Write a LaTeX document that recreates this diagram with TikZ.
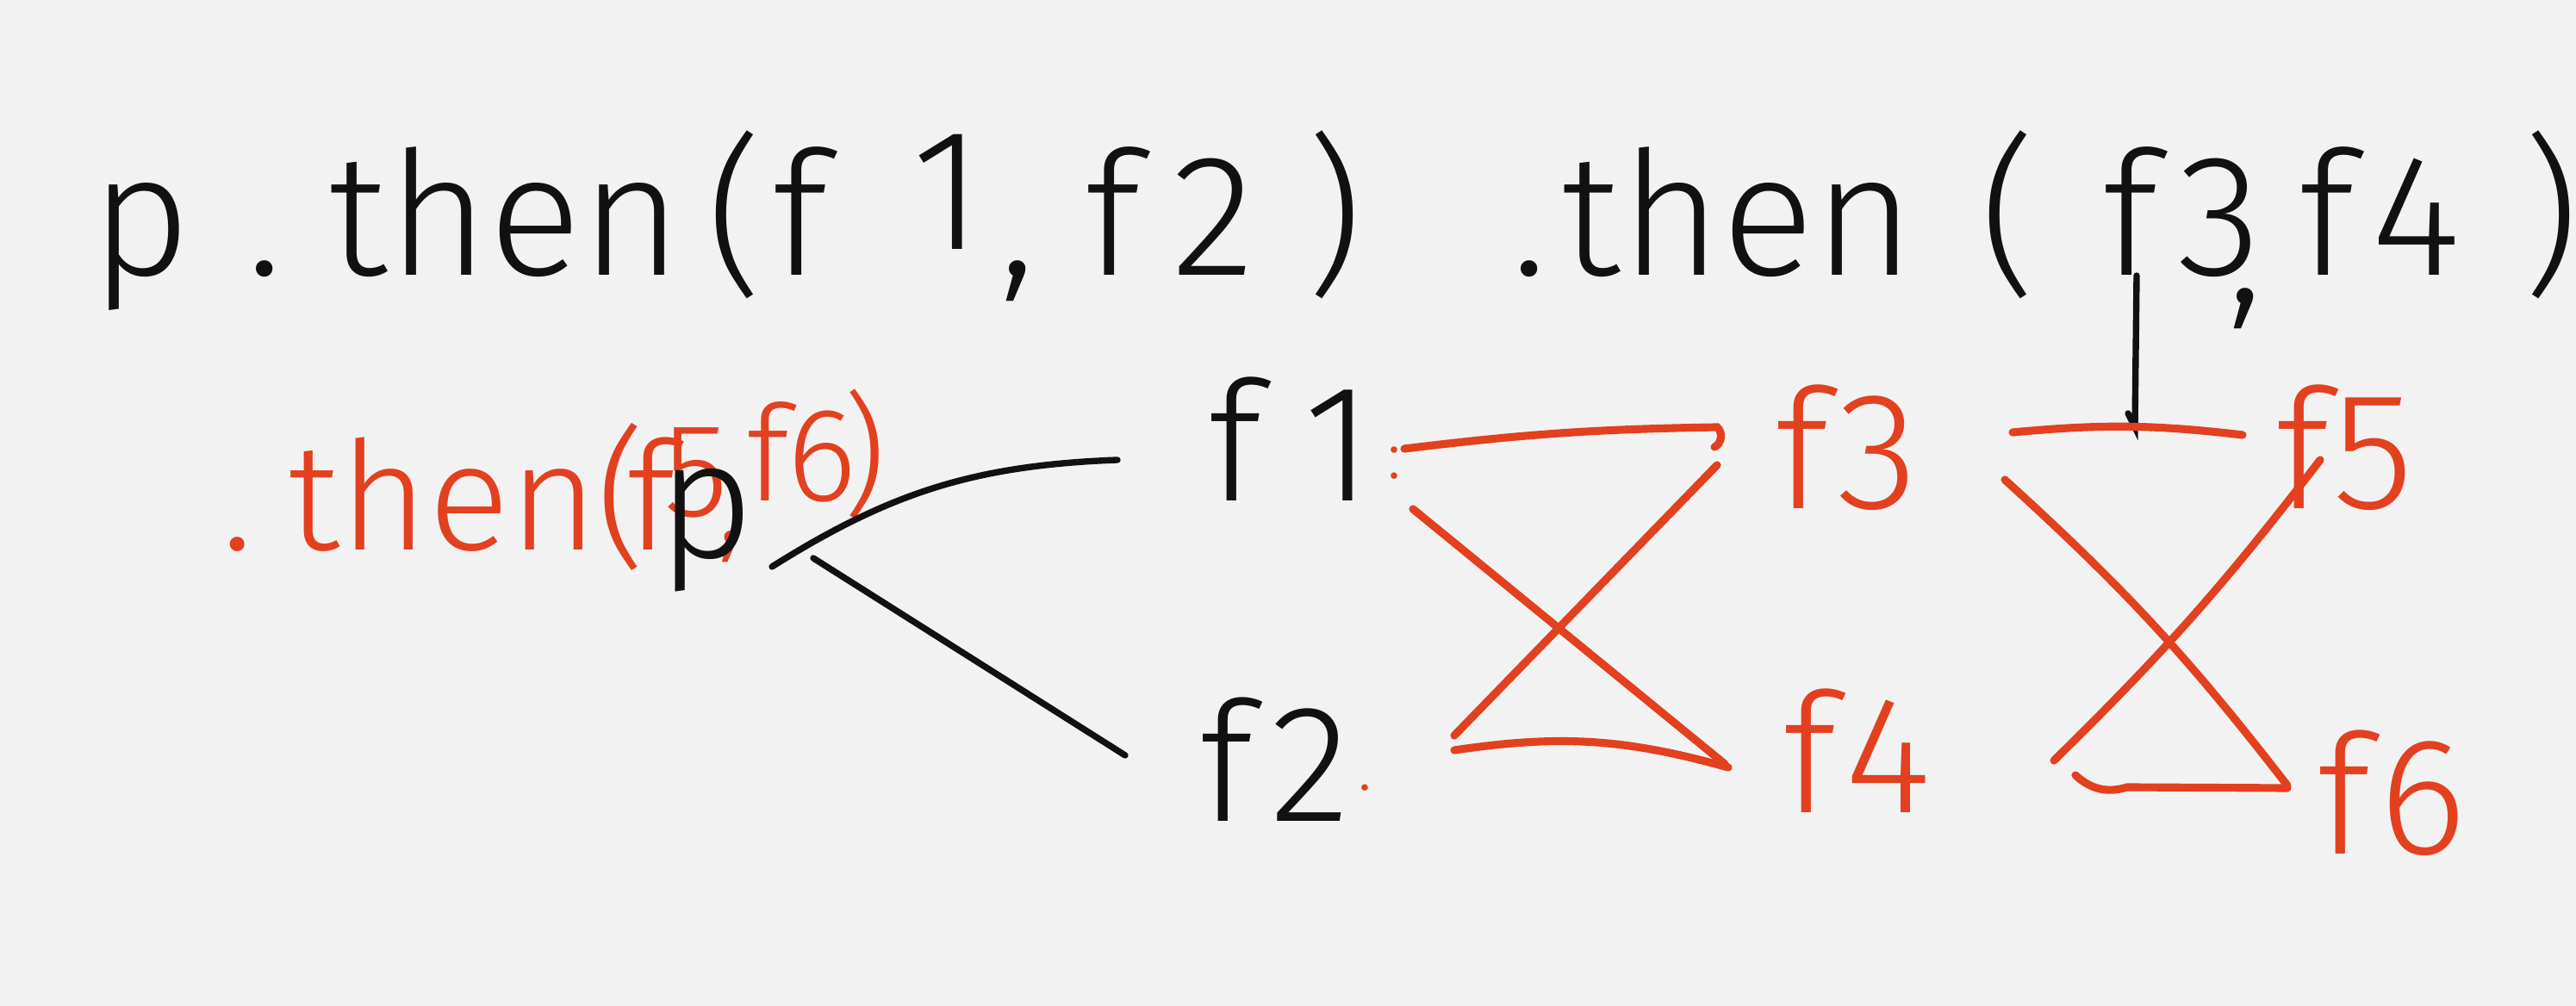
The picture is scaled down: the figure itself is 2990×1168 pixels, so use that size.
\documentclass[tikz,border=0pt]{standalone}
\usepackage{fontspec}
\setmainfont{Fira Sans Light}
\usetikzlibrary{calc}
\definecolor{ink}{HTML}{111111}
\definecolor{pen}{HTML}{E2401F}
\definecolor{paper}{HTML}{F2F2F2}
\begin{document}
\begin{tikzpicture}[x=0.01cm,y=-0.01cm,
 txt/.style={inner sep=0,anchor=base west},
 big/.style={txt,text=ink,font=\fontsize{57}{60}\selectfont},
 redtxt/.style={txt,text=pen,font=\fontsize{50}{54}\selectfont},
 redsm/.style={txt,text=pen,font=\fontsize{44}{48}\selectfont},
 lab/.style={txt,font=\fontsize{55}{58}\selectfont},
 dots/.style={txt,text=pen,font=\fontsize{22}{22}\selectfont},
 bl/.style={draw=ink,line width=2.1pt,line cap=round},
 rl/.style={draw=pen,line width=2.6pt,line cap=round}]
\fill[paper] (0,0) rectangle (2990,1168);
\useasboundingbox (0,0) rectangle (2990,1168);
% title line
\node[big] (t1) at (105,320) {p};
\node[big] (t2) at (286,320) {.};
\node[big] (t3) at (381,320) {then};
\node[big] (t4) at (820,320) {(};
\node[big] (t5) at (896,320) {f};
\node[big] (t6) at (1058,290) {1};
\node[big] (t7) at (1160,320) {,};
\node[big] (t8) at (1259,320) {f};
\node[big] (t9) at (1360,320) {2};
\node[big] (t10) at (1516,320) {)};
\node[big] (t11) at (1754,320) {.};
\node[big] (t12) at (1812,320) {then};
\node[big] (t13) at (2298,320) {(};
\node[big] (t14) at (2440,320) {f};
\node[big] (t15) at (2527,320) {3};
\node[big] (t15c) at (2585,352) {,};
\node[big] (t16) at (2668,320) {f};
\node[big] (t17) at (2752,320) {4};
\node[big] (t18) at (2928,320) {)};
% red second line
\node[redtxt] (r1) at (257,639) {.};
\node[redtxt] (r2) at (334,639) {then};
\node[redtxt] (r3) at (692,639) {(};
\node[redtxt] (r4) at (727,639) {f};
\node[redsm] (r5) at (770,600) {5};
\node[redsm] (r6) at (832,630) {,};
\node[redsm] (r7) at (866,582) {f};
\node[redsm] (r8) at (913,582) {6};
\node[redsm] (r9) at (978,582) {)};
% p and functions
\node[lab,text=ink] (p) at (763,648) {p};
\node[lab,text=ink] (f1) at (1402,582) {f\kern0.25em1};
\node[lab,text=ink] (f2) at (1392,954) {f\kern0.1em2};
\node[lab,text=pen] (f3) at (2060,591) {f\kern0.05em3};
\node[lab,text=pen] (f4) at (2069,944) {f\kern0.05em4};
\node[lab,text=pen] (f5) at (2641,591) {f5};
\node[lab,text=pen] (f6) at (2689,992) {f\kern0.05em6};
\node[dots] (c1) at (1610,556) {:};
\node[dots] (c2) at (1576,918) {.};
% black connectors
\draw[bl] ($(p.base west)+(133,10)$) to[bend left=15] ($(f1.base west)+(-105,-48)$);
\draw[bl] ($(p.base west)+(181,0)$) -- ($(f2.base west)+(-86,-77)$);
\draw[bl] ($(t14.base west)+(40,0)$) -- ($(t14.base west)+(38,176)$) -- ($(t14.base west)+(30,160)$);
% red connectors
\draw[rl] ($(f1.base west)+(228,-61)$) to[bend left=3] ($(f3.base west)+(-67,-95)$) to[bend left=60] ($(f3.base west)+(-70,-72)$);
\draw[rl] ($(f1.base west)+(238,9)$) -- ($(f4.base west)+(-67,-57)$);
\draw[rl] ($(f2.base west)+(296,-100)$) -- ($(f3.base west)+(-67,-51)$);
\draw[rl] ($(f2.base west)+(296,-83)$) to[bend left=12] ($(f4.base west)+(-63,-53)$);
\draw[rl] ($(f3.base west)+(276,-89)$) to[bend left=6] ($(f5.base west)+(-38,-86)$);
\draw[rl] ($(f3.base west)+(267,-34)$) to[bend left=5] ($(f6.base west)+(-34,-80)$);
\draw[rl] ($(f4.base west)+(315,-61)$) to[bend right=4] ($(f5.base west)+(52,-57)$);
\draw[rl] ($(f4.base west)+(340,-44)$) to[bend right=30] ($(f4.base west)+(400,-30)$) -- ($(f6.base west)+(-34,-77)$);
\end{tikzpicture}
\end{document}
